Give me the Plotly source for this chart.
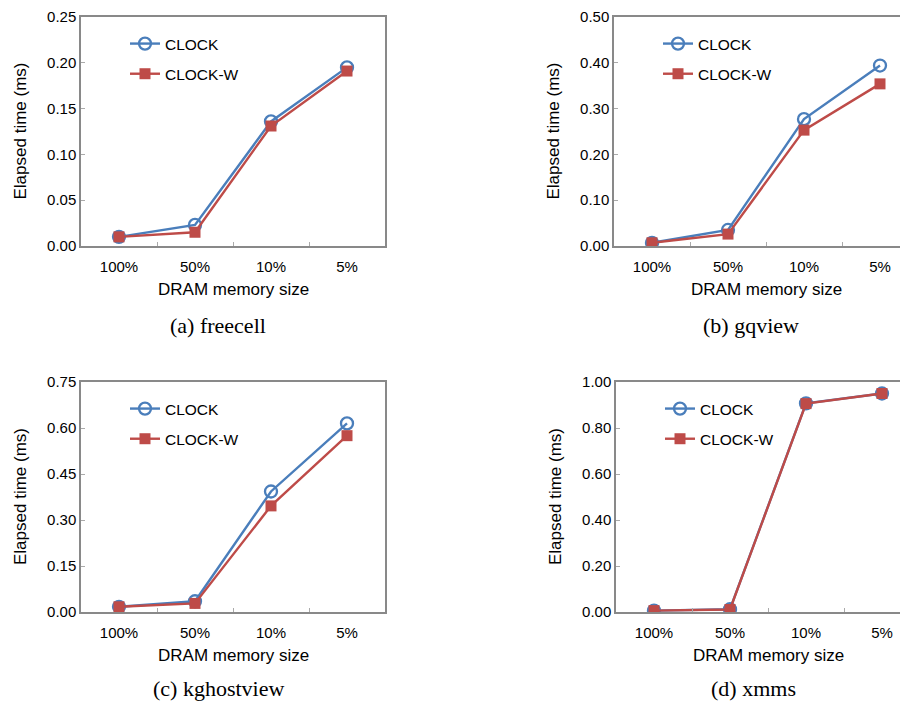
import plotly.graph_objects as go

W, H = 908, 707
OFF = 8  # page body margin offset

categories = ["100%", "50%", "10%", "5%"]

panels = ["(a) freecell", "(b) gqview", "(c) kghostview", "(d) xmms"]

clock_freecell = [0.010, 0.023, 0.136, 0.195]
clockw_freecell = [0.010, 0.015, 0.131, 0.191]

clock_gqview = [0.007, 0.035, 0.277, 0.394]
clockw_gqview = [0.007, 0.026, 0.253, 0.354]

clock_kghostview = [0.017, 0.035, 0.393, 0.615]
clockw_kghostview = [0.017, 0.028, 0.346, 0.575]

clock_xmms = [0.006, 0.012, 0.907, 0.950]
clockw_xmms = [0.006, 0.011, 0.906, 0.950]

y_ticks = [
    [0.00, 0.05, 0.10, 0.15, 0.20, 0.25],
    [0.00, 0.10, 0.20, 0.30, 0.40, 0.50],
    [0.00, 0.15, 0.30, 0.45, 0.60, 0.75],
    [0.00, 0.20, 0.40, 0.60, 0.80, 1.00],
]

series = [
    (clock_freecell, clockw_freecell),
    (clock_gqview, clockw_gqview),
    (clock_kghostview, clockw_kghostview),
    (clock_xmms, clockw_xmms),
]

BLUE = "#4a7ebb"
RED = "#be4b48"
AXIS = "#898989"
FONT = "Liberation Sans, Arial, sans-serif"
SERIF = "Liberation Serif, Times New Roman, serif"

# pixel layout of each panel in screen coords: (left, right_visible, top, bottom, full_right, caption_dy)
boxes = [
    (81, 385, 17, 246, 385, 79),
    (614, 908, 17, 246, 918, 79),
    (81, 385, 382, 612, 385, 76),
    (616, 908, 382, 612, 920, 76),
]

fig = go.Figure()

def px_x(x):
    return (x - OFF) / W

def px_y(y):
    return 1 - (y - OFF) / H

for i, ((c, cw), (l, r, t, b, fr, cdy)) in enumerate(zip(series, boxes)):
    n = i + 1
    xa = "x" if n == 1 else f"x{n}"
    ya = "y" if n == 1 else f"y{n}"
    lg = "legend" if n == 1 else f"legend{n}"
    fig.add_trace(go.Scatter(
        x=categories, y=c, name="CLOCK", xaxis=xa, yaxis=ya, legend=lg,
        legendgroup=f"c{n}",
        mode="lines+markers",
        line=dict(color=BLUE, width=2.4),
        marker=dict(symbol="circle-open", size=12, color=BLUE, line=dict(width=2.3, color=BLUE)),
    ))
    fig.add_trace(go.Scatter(
        x=categories, y=cw, name="CLOCK-W", xaxis=xa, yaxis=ya, legend=lg,
        legendgroup=f"w{n}",
        mode="lines+markers",
        line=dict(color=RED, width=2.4),
        marker=dict(symbol="square", size=11, color=RED),
    ))
    full_w = fr - l
    vis_w = r - l
    band = full_w / 4
    xr = [-0.5, -0.5 + vis_w / band]
    cut = fr > r
    xkey = "xaxis" if n == 1 else f"xaxis{n}"
    ykey = "yaxis" if n == 1 else f"yaxis{n}"
    fig.update_layout(**{
        xkey: dict(
            domain=[px_x(l), px_x(r)], anchor=ya, type="category", automargin=False,
            range=xr, showline=True, linecolor=AXIS, linewidth=1.5, mirror=True,
            ticks="inside", tickson="boundaries", ticklen=4, tickcolor="#aaaaaa",
            ticklabelstandoff=6, ticklabeloverflow="allow",
            showgrid=False, zeroline=False, tickfont=dict(family=FONT, size=15, color="#000"),
            fixedrange=True,
        ),
        ykey: dict(
            domain=[px_y(b), px_y(t)], anchor=xa, automargin=False,
            range=[0, y_ticks[i][-1]], tickmode="array", tickvals=y_ticks[i],
            ticktext=[f"{v:.2f}" for v in y_ticks[i]],
            showline=True, linecolor=AXIS, linewidth=1.5, mirror=(not cut),
            ticks="inside", ticklen=4, tickcolor="#aaaaaa", ticklabeloverflow="allow",
            showgrid=False, zeroline=False, tickfont=dict(family=FONT, size=15, color="#000"),
            fixedrange=True,
        ),
        lg: dict(
            x=px_x(l + 44), y=px_y(t + 10), xanchor="left", yanchor="top",
            bgcolor="rgba(0,0,0,0)", font=dict(family=FONT, size=15.5, color="#000"),
            tracegroupgap=7, itemclick=False, itemdoubleclick=False,
        ),
    })
    mid_x = (l + fr) / 2
    fig.add_annotation(text="DRAM memory size", xref="paper", yref="paper",
                       x=px_x(mid_x), y=px_y(b + 43), showarrow=False,
                       xanchor="center", yanchor="middle",
                       font=dict(family=FONT, size=17, color="#000"))
    fig.add_annotation(text="Elapsed time (ms)", xref="paper", yref="paper",
                       x=px_x(l - 61), y=px_y((t + b) / 2), showarrow=False, textangle=-90,
                       xanchor="center", yanchor="middle",
                       font=dict(family=FONT, size=17, color="#000"))
    fig.add_annotation(text=panels[i], xref="paper", yref="paper",
                       x=px_x(mid_x - 15), y=px_y(b + cdy), showarrow=False,
                       xanchor="center", yanchor="middle",
                       font=dict(family=SERIF, size=22, color="#000"))

fig.update_layout(
    width=W, height=H, margin=dict(l=0, r=0, t=0, b=0, autoexpand=False),
    paper_bgcolor="white", plot_bgcolor="white", showlegend=True,
)

fig.write_html("out.html")
